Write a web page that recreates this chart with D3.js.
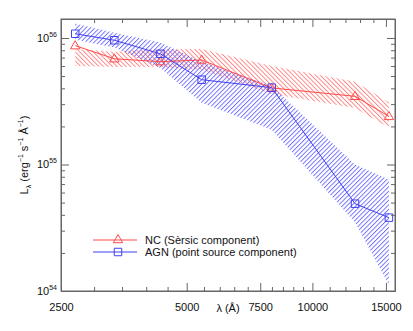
<!DOCTYPE html>
<html><head><meta charset="utf-8">
<script src="https://cdn.jsdelivr.net/npm/d3@7"></script>
<style>body{margin:0;background:#fff;} text{font-family:"Liberation Sans",Arial,sans-serif;}</style>
</head><body><svg id="c" width="413" height="331"></svg>
<script>
const wavelengths = [2704, 3355, 4325, 5430, 7990, 12650, 15250];
const ncValues  = [8.7e55, 6.85e55, 6.5e55, 6.7e55, 4.03e55, 3.46e55, 2.4e55];
const ncLow     = [6.0e55, 5.9e55, 5.9e55, 5.6e55, 3.6e55, 2.8e55, 1.95e55];
const ncHigh    = [8.2e55, 7.8e55, 8.2e55, 8.2e55, 6.0e55, 4.5e55, 3.1e55];
const agnValues = [1.08e56, 9.6e55, 7.5e55, 4.68e55, 4.05e55, 4.9e54, 3.8e54];
const agnLow    = [9.7e55, 8.4e55, 5.8e55, 3.08e55, 1.88e55, 3.5e54, 1.12e54];
const agnHigh   = [1.30e56, 1.10e56, 9.2e55, 6.5e55, 4.2e55, 1.0e55, 7.6e54];
const xMajorTicks = [2500, 5000, 7500, 10000, 15000];
const xMinorTicks = [3000,3500,4000,4500,5500,6000,6500,7000,8000,8500,9000,9500,11000,12000,13000,14000];
const yMajorExponents = [54, 55, 56];
const legendLabels = ["NC (Sèrsic component)", "AGN (point source component)"];

const svg = d3.select("#c");
const L = 61, R = 395, T = 19, B = 291;
const x = d3.scaleLog().domain([2500, 15770]).range([L, R]);
const y = d3.scaleLog().domain([1e54, 1.413e56]).range([B, T]);
const axisCol = "#666";
const red = "#ff4a4a", blue = "#4040ee";

const defs = svg.append("defs");
function hatch(id, col, angle){
  const p = defs.append("pattern").attr("id", id).attr("patternUnits","userSpaceOnUse")
    .attr("width", 3.2).attr("height", 3.2).attr("patternTransform", `rotate(${angle})`);
  p.append("line").attr("x1",0.5).attr("y1",0).attr("x2",0.5).attr("y2",3.2)
    .attr("stroke", col).attr("stroke-width", 0.8);
}
hatch("hr", "#ff7070", -45);
hatch("hb", "#5858ff", 45);

const plot = svg.append("g");
const area = (lo, hi) => d3.area().x((d,i)=>x(wavelengths[i])).y0((d,i)=>y(lo[i])).y1((d,i)=>y(hi[i]))(wavelengths);
plot.append("path").attr("d", area(ncLow, ncHigh)).attr("fill","url(#hr)");
plot.append("path").attr("d", area(agnLow, agnHigh)).attr("fill","url(#hb)");

const line = vals => d3.line().x((d,i)=>x(wavelengths[i])).y((d,i)=>y(vals[i]))(wavelengths);
plot.append("path").attr("d", line(ncValues)).attr("fill","none").attr("stroke",red).attr("stroke-width",1);
plot.append("path").attr("d", line(agnValues)).attr("fill","none").attr("stroke",blue).attr("stroke-width",1);

const tri = d3.symbol().type(d3.symbolTriangle).size(38);
const sq = d3.symbol().type(d3.symbolSquare).size(56);
plot.selectAll(".t").data(ncValues).join("path").attr("d", tri)
  .attr("transform",(d,i)=>`translate(${x(wavelengths[i])},${y(d)+0.5})`)
  .attr("fill","none").attr("stroke",red).attr("stroke-width",1);
plot.selectAll(".s").data(agnValues).join("path").attr("d", sq)
  .attr("transform",(d,i)=>`translate(${x(wavelengths[i])},${y(d)})`)
  .attr("fill","none").attr("stroke",blue).attr("stroke-width",1);

// axes
function styleAx(g){ g.selectAll("path").attr("stroke",axisCol); g.selectAll("line").attr("stroke",axisCol); }
const yMinor = [];
yMajorExponents.forEach(e => { for (let k=2;k<=9;k++){ const v=k*Math.pow(10,e); if (v<=1.413e56) yMinor.push(v);} });
const yMajor = yMajorExponents.map(e=>Math.pow(10,e));

svg.append("g").attr("transform",`translate(0,${B})`).call(d3.axisBottom(x).tickValues(xMinorTicks).tickSizeInner(-4).tickSizeOuter(0).tickFormat("")).call(styleAx);
svg.append("g").attr("transform",`translate(0,${B})`).call(d3.axisBottom(x).tickValues(xMajorTicks).tickSizeInner(-8).tickSizeOuter(0).tickPadding(12).tickFormat(d3.format("d"))).call(styleAx)
  .selectAll("text").attr("fill","#111").attr("font-size",11);
svg.append("g").attr("transform",`translate(0,${T})`).call(d3.axisTop(x).tickValues(xMinorTicks).tickSizeInner(-4).tickSizeOuter(0).tickFormat("")).call(styleAx);
svg.append("g").attr("transform",`translate(0,${T})`).call(d3.axisTop(x).tickValues(xMajorTicks).tickSizeInner(-8).tickSizeOuter(0).tickFormat("")).call(styleAx);

svg.append("g").attr("transform",`translate(${L},0)`).call(d3.axisLeft(y).tickValues(yMinor).tickSizeInner(-4).tickSizeOuter(0).tickFormat("")).call(styleAx);
svg.append("g").attr("transform",`translate(${L},0)`).call(d3.axisLeft(y).tickValues(yMajor).tickSizeInner(-8).tickSizeOuter(0).tickFormat("")).call(styleAx);
svg.append("g").attr("transform",`translate(${R},0)`).call(d3.axisRight(y).tickValues(yMinor).tickSizeInner(-4).tickSizeOuter(0).tickFormat("")).call(styleAx);
svg.append("g").attr("transform",`translate(${R},0)`).call(d3.axisRight(y).tickValues(yMajor).tickSizeInner(-8).tickSizeOuter(0).tickFormat("")).call(styleAx);

yMajorExponents.forEach(e => {
  const t = svg.append("text").attr("x", L-4).attr("y", y(Math.pow(10,e))+4).attr("text-anchor","end").attr("fill","#111").attr("font-size",11);
  t.append("tspan").text("10");
  t.append("tspan").attr("dy",-5).attr("font-size",7).text(String(e));
});

// frame
svg.append("rect").attr("x",L).attr("y",T).attr("width",R-L).attr("height",B-T).attr("fill","none").attr("stroke",axisCol).attr("stroke-width",1);

// labels
svg.append("text").attr("x", (L+R)/2).attr("y", 312).attr("text-anchor","middle").attr("font-size",11).attr("fill","#111").text("λ (Å)");
const ylab = svg.append("text").attr("transform",`translate(28,${(T+B)/2}) rotate(-90)`).attr("text-anchor","middle").attr("font-size",11).attr("fill","#111");
ylab.append("tspan").text("L");
ylab.append("tspan").attr("font-size",7).attr("dy",3).text("λ");
ylab.append("tspan").attr("dy",-3).text(" (erg");
ylab.append("tspan").attr("font-size",7).attr("dy",-5).text("−1");
ylab.append("tspan").attr("dy",5).text(" s");
ylab.append("tspan").attr("font-size",7).attr("dy",-5).text("−1");
ylab.append("tspan").attr("dy",5).text(" Å");
ylab.append("tspan").attr("font-size",7).attr("dy",-5).text("−1");
ylab.append("tspan").attr("dy",5).text(")");

// legend
const lg = [{label:legendLabels[0], col:red, sym:tri, y:240},{label:legendLabels[1], col:blue, sym:sq, y:252}];
lg.forEach(d => {
  svg.append("line").attr("x1",93).attr("x2",137).attr("y1",d.y).attr("y2",d.y).attr("stroke",d.col).attr("stroke-width",1);
  svg.append("path").attr("d", d.sym).attr("transform",`translate(118,${d.y})`).attr("fill","none").attr("stroke",d.col);
  svg.append("text").attr("x",145).attr("y",d.y+4).attr("font-size",11).attr("fill","#111").text(d.label);
});
</script></body></html>
